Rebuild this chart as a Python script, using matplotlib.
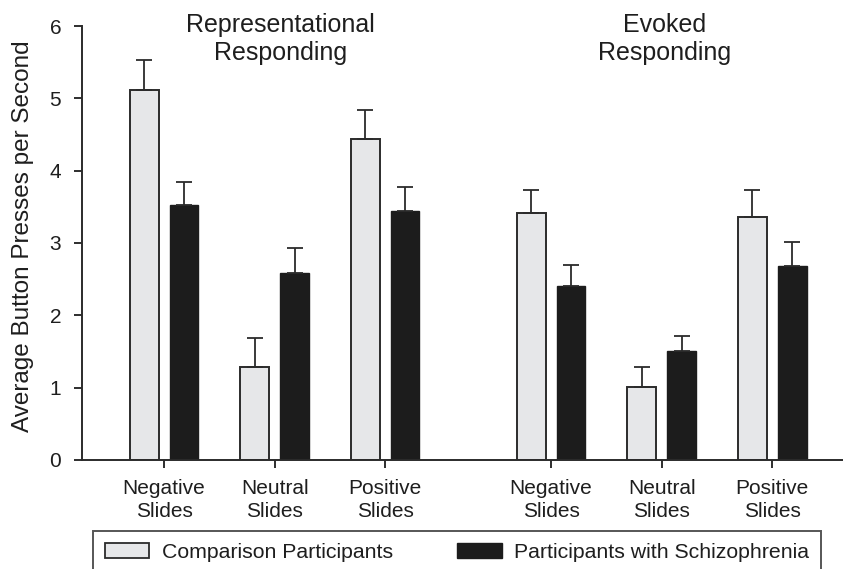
import matplotlib
matplotlib.use("Agg")
import matplotlib.pyplot as plt
import numpy as np
from matplotlib.patches import Patch

plt.rcParams["font.family"] = ["Liberation Sans", "DejaVu Sans"]

categories = ["Negative\nSlides", "Neutral\nSlides", "Positive\nSlides",
              "Negative\nSlides", "Neutral\nSlides", "Positive\nSlides"]
comparison = [5.12, 1.29, 4.44, 3.41, 1.01, 3.36]
comparison_err = [0.41, 0.39, 0.40, 0.32, 0.28, 0.37]
schizo = [3.52, 2.58, 3.44, 2.40, 1.50, 2.68]
schizo_err = [0.33, 0.35, 0.33, 0.29, 0.22, 0.33]
positions = [0, 1, 2, 3.5, 4.5, 5.5]

edge = "#2b2b2b"
light = "#e6e7e9"
dark = "#1c1c1c"
txt = "#1e1e1e"

fig = plt.figure(figsize=(8.43, 5.69), dpi=100)
ax = fig.add_axes([0.0973, 0.1916, 0.9027, 0.7627])

x = np.array(positions)
w = 0.26
off = 0.18
ax.bar(x - off, comparison, w, color=light, edgecolor=edge, linewidth=1.4,
       yerr=[np.zeros(6), comparison_err], capsize=6,
       error_kw=dict(ecolor=edge, elinewidth=1.3, capthick=1.3))
ax.bar(x + off, schizo, w, color=dark, edgecolor=dark, linewidth=1.0,
       yerr=[np.zeros(6), schizo_err], capsize=6,
       error_kw=dict(ecolor=edge, elinewidth=1.3, capthick=1.3))

ax.set_xlim(-0.742, 6.14)
ax.set_ylim(0, 6)
ax.set_yticks(range(7))
ax.set_xticks(positions)
ax.set_xticklabels(categories, fontsize=15, color=txt, linespacing=1.25)
ax.tick_params(axis="y", labelsize=15, colors=txt, length=6, width=1.3,
               direction="out", pad=9)
ax.tick_params(axis="x", length=6, width=1.3, direction="out", pad=8,
               colors=txt)
for s in ["top", "right"]:
    ax.spines[s].set_visible(False)
for s in ["left", "bottom"]:
    ax.spines[s].set_color(edge)
    ax.spines[s].set_linewidth(1.4)

ax.set_ylabel("Average Button Presses per Second", fontsize=17.5, color=txt)
ax.yaxis.set_label_coords(-0.063, 0.516)

ax.text(1.05, 5.82, "Representational\nResponding", ha="center", va="center",
        fontsize=18, color=txt, linespacing=1.2)
ax.text(4.53, 5.82, "Evoked\nResponding", ha="center", va="center",
        fontsize=18, color=txt, linespacing=1.2)

handles = [Patch(facecolor=light, edgecolor=edge, linewidth=1.3),
           Patch(facecolor=dark, edgecolor=dark)]
leg = fig.legend(handles, ["Comparison Participants",
                           "Participants with Schizophrenia"],
                 loc="upper left", bbox_to_anchor=(0.1103, -0.2, 0.8636, 0.2668),
                 mode="expand", ncol=2, fontsize=15.3, frameon=True,
                 fancybox=False, handlelength=2.1, handleheight=0.7,
                 borderpad=0.55, borderaxespad=0, handletextpad=0.6)
leg.get_frame().set_edgecolor(edge)
leg.get_frame().set_linewidth(1.4)
for t in leg.get_texts():
    t.set_color(txt)

fig.savefig("out.png", dpi=100)
